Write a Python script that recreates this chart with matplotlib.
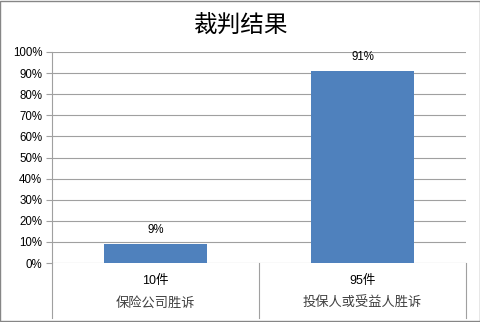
import matplotlib.pyplot as plt
from matplotlib.patches import Rectangle
from matplotlib.lines import Line2D

plt.rcParams['font.family'] = ['Liberation Sans', 'Noto Sans CJK SC', 'DejaVu Sans']

title = "裁判结果"
counts = ["10件", "95件"]
groups = ["保险公司胜诉", "投保人或受益人胜诉"]
values = [9, 91]
yticks = list(range(0, 101, 10))

fig = plt.figure(figsize=(4.81, 3.22), dpi=100)
ax = fig.add_axes([52 / 481, 59 / 322, 414 / 481, 211 / 322])

x = range(len(values))
ax.bar(x, values, width=0.5, color="#4F81BD", zorder=3)
for xi, v in zip(x, values):
    ax.text(xi, v + 4, f"{v}%", ha="center", va="bottom", fontsize=8.3)

ax.set_xlim(-0.5, 1.5)
ax.set_ylim(0, 100)
ax.set_yticks(yticks)
ax.set_yticklabels([f"{t}%" for t in yticks], fontsize=8.3)
ax.yaxis.grid(True, color="#A0A0A0", linewidth=0.8, zorder=0)
ax.set_xticks([])
ax.tick_params(axis="y", length=4, color="#A0A0A0", pad=3)
for s in ["top", "right", "bottom"]:
    ax.spines[s].set_visible(False)
ax.spines["left"].set_color("#A0A0A0")
ax.spines["left"].set_bounds(0, 100)

# multi-level category axis
px = lambda p: p / 481
py = lambda p: 1 - p / 322
for xp in [52, 259, 466]:
    fig.add_artist(Line2D([px(xp), px(xp)], [py(263), py(318)], color="#A0A0A0", lw=0.8))
for i, (c, g) in enumerate(zip(counts, groups)):
    cx = px(155.5 + 207 * i)
    fig.text(cx, py(281), c, ha="center", va="center", fontsize=9)
    fig.text(cx, py(303), g, ha="center", va="center", fontsize=9.5, color="#404040")

fig.text(0.5, py(25), title, ha="center", va="center", fontsize=17,
         family=["Noto Sans CJK SC"])

fig.add_artist(Rectangle((0.001, 0.002), 0.997, 0.995, transform=fig.transFigure,
                         fill=False, edgecolor="#868686", lw=1))

fig.savefig("out.png", dpi=100)
